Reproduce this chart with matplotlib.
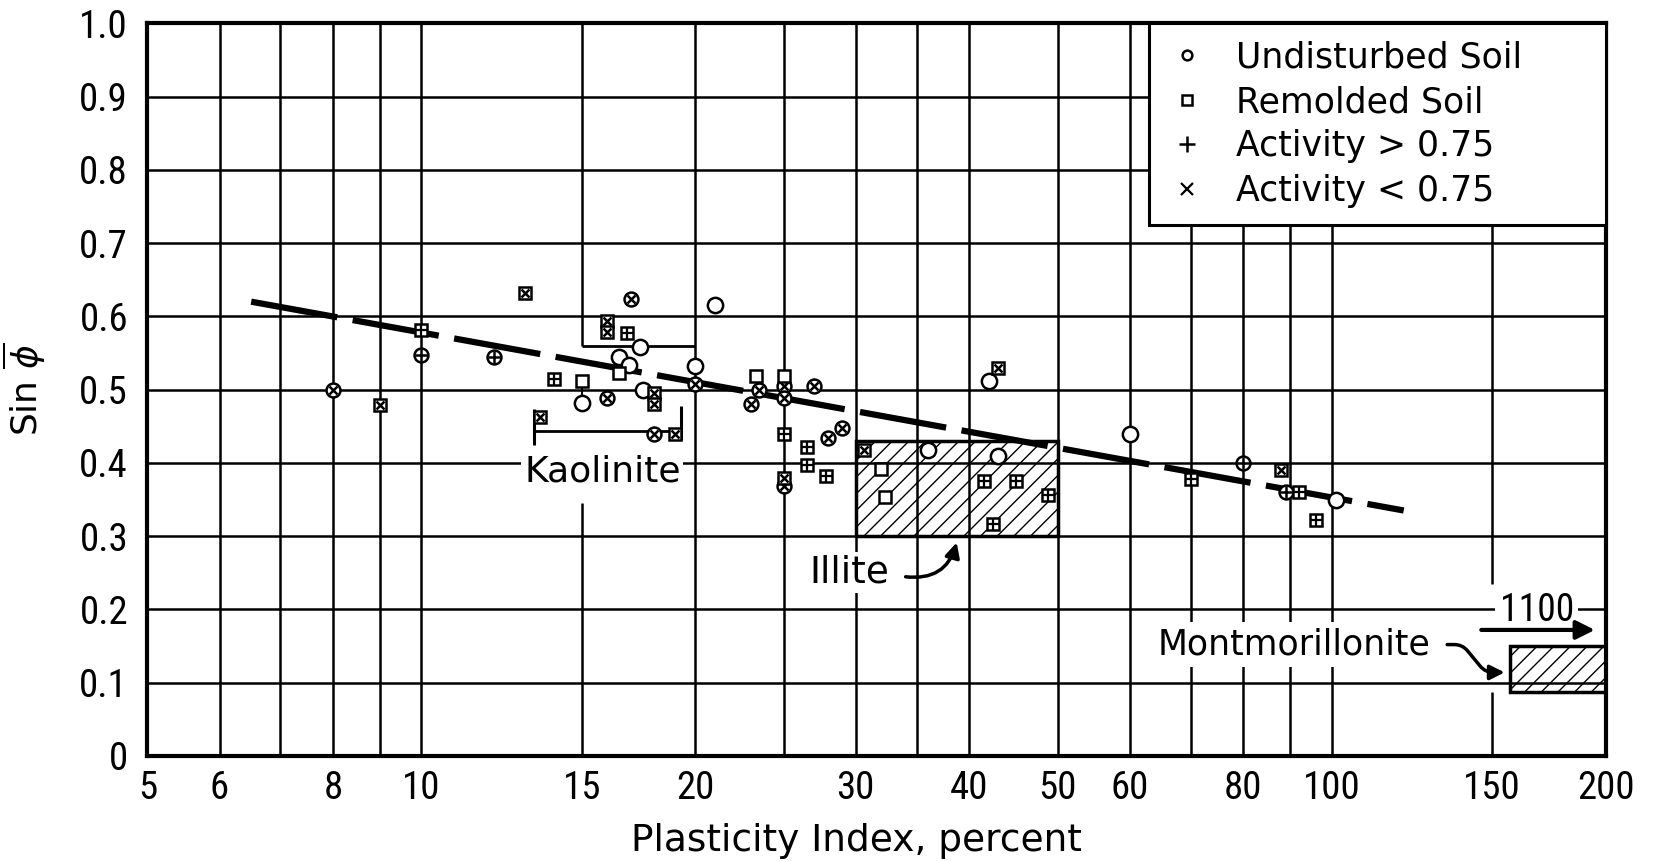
import numpy as np
import matplotlib
matplotlib.use("Agg")
import matplotlib.pyplot as plt
from matplotlib.patches import Rectangle
from matplotlib.lines import Line2D

plt.rcParams['font.family'] = ['DejaVu Sans']
plt.rcParams['mathtext.fontset'] = 'dejavusans'
plt.rcParams['hatch.linewidth'] = 1.0
TICKFONT = dict(family=['Roboto Condensed', 'DejaVu Sans'], stretch='condensed')

# data (plasticity index, sin phi)
circ_open_pi = [15, 16.5, 16.9, 17.4, 17.5, 20, 21, 36, 42, 43, 60, 101]
circ_open_sin = [0.482, 0.544, 0.534, 0.558, 0.50, 0.532, 0.616, 0.418, 0.512, 0.41, 0.44, 0.349]

circ_x_pi = [8, 16, 17, 18, 20, 23, 23.5, 25, 25, 25, 27, 28, 29]
circ_x_sin = [0.50, 0.489, 0.623, 0.44, 0.508, 0.48, 0.50, 0.505, 0.488, 0.368, 0.505, 0.434, 0.447]

circ_plus_pi = [10, 12, 80, 89]
circ_plus_sin = [0.547, 0.545, 0.40, 0.36]

sq_open_pi = [15, 16.5, 23.3, 25, 32, 32.3]
sq_open_sin = [0.512, 0.522, 0.518, 0.518, 0.391, 0.354]

sq_x_pi = [9, 13, 13.5, 16, 16, 18, 18, 19, 25, 30.6, 43, 88]
sq_x_sin = [0.479, 0.632, 0.463, 0.594, 0.578, 0.495, 0.48, 0.44, 0.38, 0.418, 0.53, 0.39]

sq_plus_pi = [10, 14, 16.8, 25, 26.5, 26.5, 27.8, 41.5, 42.5, 45, 48.8, 70, 92, 96]
sq_plus_sin = [0.582, 0.515, 0.577, 0.44, 0.421, 0.397, 0.382, 0.375, 0.316, 0.375, 0.356, 0.378, 0.36, 0.322]

trend_pi = [6.5, 120]
trend_sin = [0.62, 0.335]

# clay mineral ranges
kaol_pi = [13.3, 19.3]
kaol_sin = 0.443
kaol_top_pi = [15, 20]
kaol_top_sin = 0.56
illite_pi = [30, 50]
illite_sin = [0.30, 0.43]
mont_pi = [157, 200]
mont_sin = [0.087, 0.15]

xticks = [5, 6, 8, 10, 15, 20, 30, 40, 50, 60, 80, 100, 150, 200]
yticks = [0, 0.1, 0.2, 0.3, 0.4, 0.5, 0.6, 0.7, 0.8, 0.9, 1.0]
ylabels = ['0', '0.1', '0.2', '0.3', '0.4', '0.5', '0.6', '0.7', '0.8', '0.9', '1.0']
grid_x = [6, 7, 8, 9, 10, 20, 25, 30, 35, 40, 50, 60, 70, 80, 90, 100]

fig = plt.figure(figsize=(16.57, 8.61), dpi=100)
ax = fig.add_axes([0.089, 0.122, 0.88, 0.851])
ax.set_xscale('log')
ax.set_xlim(5, 200)
ax.set_ylim(0, 1)

# grid drawn by hand since a few lines are broken in the original
ax.vlines(grid_x, 0, 1, color='k', lw=1.8, zorder=2)
ax.vlines([15, 15], [0, 0.56], [0.345, 1], color='k', lw=1.8, zorder=2)
ax.vlines([150, 150], [0, 0.235], [0.087, 1], color='k', lw=1.8, zorder=2)
ax.hlines(yticks[1:-1], 5, 200, color='k', lw=1.8, zorder=2)

# mineral zones
ax.add_patch(Rectangle((illite_pi[0], illite_sin[0]), illite_pi[1] - illite_pi[0],
                       illite_sin[1] - illite_sin[0], facecolor='white', edgecolor='k',
                       hatch='//', lw=2.5, zorder=1))
ax.add_patch(Rectangle((mont_pi[0], mont_sin[0]), mont_pi[1] - mont_pi[0],
                       mont_sin[1] - mont_sin[0], facecolor='white', edgecolor='k',
                       hatch='//', lw=2.5, zorder=1))
ax.hlines(kaol_sin, kaol_pi[0], kaol_pi[1], color='k', lw=2, zorder=3)
ax.vlines(kaol_pi, [kaol_sin - 0.018, kaol_sin - 0.012], [kaol_sin + 0.03, kaol_sin + 0.035],
          color='k', lw=2.2, zorder=3)
ax.hlines(kaol_top_sin, kaol_top_pi[0], kaol_top_pi[1], color='k', lw=2, zorder=3)
ax.vlines(15, 0.482, 0.512, color='k', lw=1.5, zorder=3)

# trend line
ax.plot(trend_pi, trend_sin, color='k', lw=4.5, dashes=(14, 2.5), solid_capstyle='butt', zorder=3)

# points
mk = dict(ls='none', color='k', zorder=4)
ax.plot(circ_open_pi, circ_open_sin, marker='o', ms=11, mfc='white', mew=1.8, **mk)
ax.plot(circ_x_pi, circ_x_sin, marker='o', ms=10, mfc='white', mew=1.8, **mk)
ax.plot(circ_x_pi, circ_x_sin, marker='x', ms=6, mew=1.8, **mk)
ax.plot(circ_plus_pi, circ_plus_sin, marker='o', ms=10, mfc='white', mew=1.8, **mk)
ax.plot(circ_plus_pi, circ_plus_sin, marker='+', ms=8, mew=1.8, **mk)
ax.plot(sq_open_pi, sq_open_sin, marker='s', ms=9, mfc='white', mew=1.8, **mk)
ax.plot(sq_x_pi, sq_x_sin, marker='s', ms=8.5, mfc='white', mew=1.8, **mk)
ax.plot(sq_x_pi, sq_x_sin, marker='x', ms=6, mew=1.8, **mk)
ax.plot(sq_plus_pi, sq_plus_sin, marker='s', ms=8.5, mfc='white', mew=1.8, **mk)
ax.plot(sq_plus_pi, sq_plus_sin, marker='+', ms=8.5, mew=1.6, **mk)

# labels
ax.text(15.8, 0.388, 'Kaolinite', fontsize=26, ha='center', va='center', zorder=5,
        bbox=dict(facecolor='white', edgecolor='none', pad=2))
ax.text(29.5, 0.25, 'Illite', fontsize=27, ha='center', va='center', zorder=5,
        bbox=dict(facecolor='white', edgecolor='none', pad=2))
ax.annotate('', xy=(38.8, 0.295), xytext=(33.8, 0.245),
            arrowprops=dict(arrowstyle='-|>', connectionstyle='arc3,rad=0.45',
                            lw=2.5, color='k', mutation_scale=22), zorder=5)
ax.text(91, 0.152, 'Montmorillonite', fontsize=25, ha='center', va='center', zorder=5,
        bbox=dict(facecolor='white', edgecolor='none', pad=4))
ax.annotate('', xy=(156, 0.114), xytext=(133, 0.152),
            arrowprops=dict(arrowstyle='-|>', connectionstyle='arc,angleA=0,angleB=180,armA=18,armB=22,rad=8',
                            lw=2.5, color='k', mutation_scale=22), zorder=5)
ax.text(168, 0.198, '1100', fontsize=27, ha='center', va='center', zorder=5,
        bbox=dict(facecolor='white', edgecolor='none', pad=3), **TICKFONT)
ax.annotate('', xy=(196, 0.172), xytext=(145, 0.172),
            arrowprops=dict(arrowstyle='-|>', lw=3, color='k', mutation_scale=28), zorder=5)

# legend
handles = [Line2D([], [], ls='none', marker='o', ms=7, mfc='white', mec='k', mew=1.8),
           Line2D([], [], ls='none', marker='s', ms=6.5, mfc='white', mec='k', mew=1.8),
           Line2D([], [], ls='none', marker='+', ms=12, mec='k', mew=1.8),
           Line2D([], [], ls='none', marker='x', ms=9, mec='k', mew=1.6)]
labels = ['Undisturbed Soil', 'Remolded Soil', 'Activity > 0.75', 'Activity < 0.75']
leg = ax.legend(handles, labels, loc='upper left', bbox_to_anchor=(0.687, 0.735, 0.313, 0.265),
                mode='expand', borderaxespad=0, fontsize=25, frameon=True, fancybox=False,
                framealpha=1, edgecolor='k', labelspacing=0.3, handlelength=1.2,
                handletextpad=0.8, borderpad=0.5)
leg.get_frame().set_linewidth(2.2)
leg.set_zorder(6)

ax.set_xticks(xticks)
ax.set_xticklabels([str(t) for t in xticks], **TICKFONT)
ax.xaxis.set_minor_locator(matplotlib.ticker.NullLocator())
ax.set_yticks(yticks)
ax.set_yticklabels(ylabels, **TICKFONT)
ax.tick_params(length=0, labelsize=28)
ax.tick_params(axis='x', pad=10)
ax.tick_params(axis='y', pad=14)
for s in ax.spines.values():
    s.set_linewidth(3)

ax.set_xlabel('Plasticity Index, percent', fontsize=27)
ax.xaxis.set_label_coords(0.486, -0.092)
ax.set_ylabel('Sin $\\overline{\\phi}$', fontsize=26)
ax.yaxis.set_label_coords(-0.068, 0.5)

fig.savefig('out.png', dpi=100)
